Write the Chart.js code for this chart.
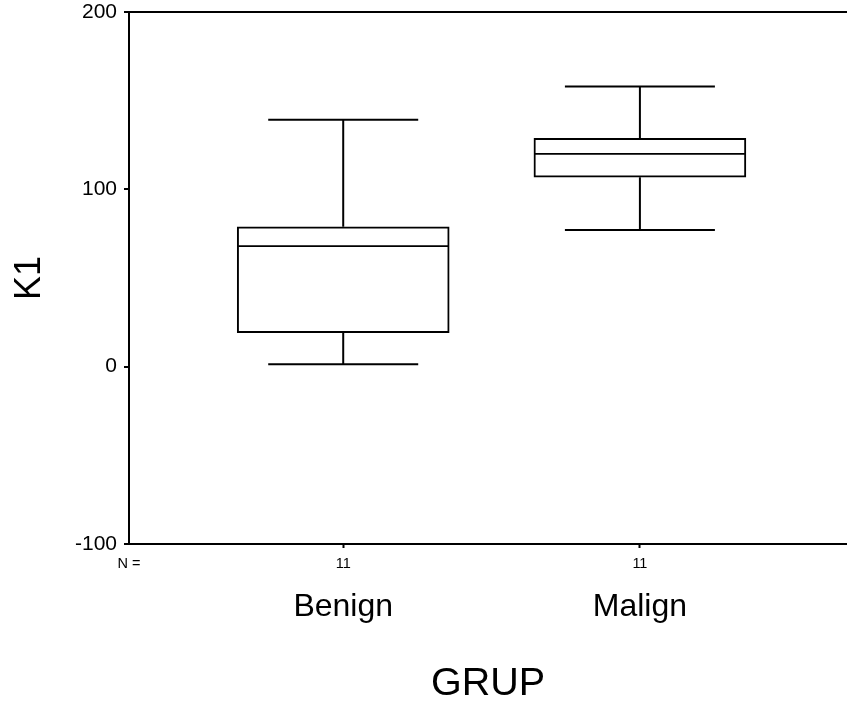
<!DOCTYPE html>
<html>
<head>
<meta charset="utf-8">
<script src="https://cdn.jsdelivr.net/npm/chart.js@4/dist/chart.umd.min.js"></script>
<style>
  html, body { margin: 0; padding: 0; background: #fff; overflow: hidden; }
  #wrap { width: 847px; height: 711px; }
</style>
</head>
<body>
<div id="wrap"><canvas id="boxChart" width="847" height="711"></canvas></div>
<script>
// data
const groups = ['Benign', 'Malign'];
const counts = [11, 11];
const whiskerLow = [1.4, 77.1];
const q1 = [19.2, 106.8];
const median = [68.0, 120.0];
const q3 = [78.9, 128.8];
const whiskerHigh = [139.2, 158.0];
const yTicks = [-100, 0, 100, 200];

const FONT = "'Liberation Sans', Arial, Helvetica, sans-serif";
const xMin = 0.278;
const xMax = 2.698;

// whiskers, caps and median lines
const boxLines = {
    id: 'boxLines',
    afterDatasetsDraw(chart) {
        const ctx = chart.ctx;
        const x = chart.scales.x;
        const y = chart.scales.y;
        const bars = chart.getDatasetMeta(0).data;
        const seg = (x1, y1, x2, y2) => {
            ctx.beginPath();
            ctx.moveTo(x1, y1);
            ctx.lineTo(x2, y2);
            ctx.stroke();
        };
        ctx.save();
        ctx.strokeStyle = '#000';
        groups.forEach((g, i) => {
            const cx = x.getPixelForValue(i + 1);
            const yLo = y.getPixelForValue(whiskerLow[i]);
            const yHi = y.getPixelForValue(whiskerHigh[i]);
            const capHalf = 75;
            ctx.lineWidth = 2;
            seg(cx, y.getPixelForValue(q3[i]), cx, yHi);
            seg(cx, y.getPixelForValue(q1[i]), cx, yLo);
            seg(cx - capHalf, yHi, cx + capHalf, yHi);
            seg(cx - capHalf, yLo, cx + capHalf, yLo);
            const half = bars[i].width / 2;
            const ym = y.getPixelForValue(median[i]);
            ctx.lineWidth = 1.6;
            seg(cx - half + 1, ym, cx + half - 1, ym);
        });
        ctx.restore();
    }
};

const ctx = document.getElementById('boxChart').getContext('2d');

const boxChart = new Chart(ctx, {
    type: 'bar',
    data: {
        datasets: [{
            label: 'K1',
            data: groups.map((g, i) => ({ x: i + 1, y: [q1[i], q3[i]] })),
            backgroundColor: '#fff',
            borderColor: '#000',
            borderWidth: 2,
            borderSkipped: false,
            barThickness: 212
        }]
    },
    options: {
        responsive: false,
        animation: false,
        layout: { padding: { top: 12, left: 0, right: 0, bottom: 0 } },
        plugins: {
            legend: { display: false },
            tooltip: { enabled: false }
        },
        scales: {
            x: {
                type: 'linear',
                position: 'bottom',
                weight: 0,
                min: xMin,
                max: xMax,
                offset: false,
                afterBuildTicks: (scale) => {
                    scale.ticks = [{ value: xMin }].concat(groups.map((g, i) => ({ value: i + 1 })));
                },
                afterFit: (scale) => { scale.height = 28; },
                ticks: {
                    autoSkip: false,
                    maxRotation: 0,
                    padding: 7,
                    color: '#000',
                    font: { family: FONT, size: 14.5 },
                    callback: (value, index) => index === 0 ? 'N =' : String(counts[index - 1])
                },
                grid: {
                    display: true,
                    offset: false,
                    drawOnChartArea: false,
                    drawTicks: true,
                    tickLength: 4,
                    tickWidth: 2,
                    tickColor: (c) => c.index === 0 ? 'rgba(0,0,0,0)' : '#000'
                },
                border: { display: true, color: '#000', width: 2 }
            },
            x2: {
                type: 'linear',
                position: 'bottom',
                weight: 1,
                min: xMin,
                max: xMax,
                offset: false,
                afterBuildTicks: (scale) => {
                    scale.ticks = groups.map((g, i) => ({ value: i + 1 }));
                },
                afterFit: (scale) => { scale.height = 139; },
                ticks: {
                    autoSkip: false,
                    maxRotation: 0,
                    padding: 8,
                    color: '#000',
                    font: { family: FONT, size: 32 },
                    callback: (value, index) => groups[index]
                },
                grid: { display: false, offset: false },
                border: { display: false },
                title: {
                    display: true,
                    text: 'GRUP',
                    color: '#000',
                    font: { family: FONT, size: 39.5 },
                    padding: { top: 45, bottom: 3 }
                }
            },
            y: {
                type: 'linear',
                position: 'left',
                min: -100,
                max: 200,
                afterBuildTicks: (scale) => {
                    scale.ticks = yTicks.map(v => ({ value: v }));
                },
                afterFit: (scale) => {
                    scale.width = 129;
                    scale.paddingTop = 0;
                    scale.paddingBottom = 0;
                },
                ticks: {
                    padding: 7,
                    color: '#000',
                    font: { family: FONT, size: 21 }
                },
                grid: {
                    display: true,
                    drawTicks: true,
                    tickLength: 5,
                    tickWidth: 2,
                    lineWidth: 2,
                    tickColor: '#000',
                    color: (c) => c.tick && c.tick.value === 200 ? '#000' : 'rgba(0,0,0,0)'
                },
                border: { display: true, color: '#000', width: 2 },
                title: {
                    display: true,
                    text: 'K1',
                    color: '#000',
                    font: { family: FONT, size: 36 },
                    padding: { top: 8, bottom: 0 }
                }
            }
        }
    },
    plugins: [boxLines]
});
</script>
</body>
</html>
